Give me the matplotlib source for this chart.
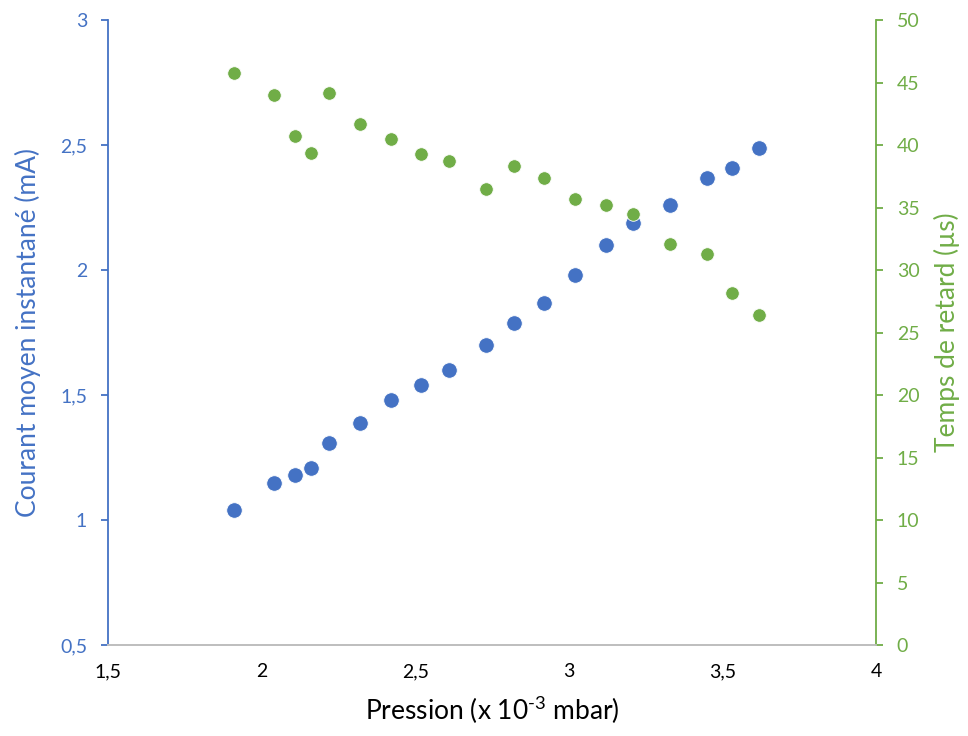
import matplotlib
matplotlib.use("Agg")
import matplotlib.pyplot as plt
from matplotlib.ticker import FuncFormatter, MultipleLocator

# pression (x 10^-3 mbar)
pression = [1.91, 2.04, 2.11, 2.16, 2.22, 2.32, 2.42, 2.52, 2.61, 2.73,
            2.82, 2.92, 3.02, 3.12, 3.21, 3.33, 3.45, 3.53, 3.62]
# courant moyen instantane (mA)
courant = [1.04, 1.15, 1.18, 1.21, 1.31, 1.39, 1.48, 1.54, 1.60, 1.70,
           1.79, 1.87, 1.98, 2.10, 2.19, 2.26, 2.37, 2.41, 2.49]
# temps de retard (us)
retard = [45.8, 44.0, 40.7, 39.4, 44.2, 41.7, 40.5, 39.3, 38.7, 36.5,
          38.3, 37.4, 35.7, 35.2, 34.5, 32.1, 31.3, 28.2, 26.4]

BLUE = "#4472C4"
GREEN = "#70AD47"

plt.rcParams["font.family"] = ["Lato", "DejaVu Sans"]
plt.rcParams["mathtext.fontset"] = "custom"
plt.rcParams["mathtext.rm"] = "Lato"
plt.rcParams["axes.unicode_minus"] = False


def comma(v, pos):
    s = "%g" % v
    return s.replace(".", ",")


fig = plt.figure(figsize=(9.68, 7.36), dpi=100)
ax = fig.add_axes([0.1116, 0.1236, 0.7934, 0.8492])
ax2 = ax.twinx()

ax.scatter(pression, courant, s=125, c=BLUE, edgecolors="white",
           linewidths=0.6, zorder=3)
ax2.scatter(pression, retard, s=95, c=GREEN, edgecolors="white",
            linewidths=0.6, zorder=3)

ax.set_xlim(1.5, 4)
ax.set_ylim(0.5, 3)
ax2.set_ylim(0, 50)
ax.xaxis.set_major_locator(MultipleLocator(0.5))
ax.yaxis.set_major_locator(MultipleLocator(0.5))
ax2.yaxis.set_major_locator(MultipleLocator(5))
for a in (ax, ax2):
    a.xaxis.set_major_formatter(FuncFormatter(comma))
    a.yaxis.set_major_formatter(FuncFormatter(comma))

for a in (ax, ax2):
    a.spines["top"].set_visible(False)
    a.spines["bottom"].set_color("#BFBFBF")
    a.spines["bottom"].set_linewidth(1.3)
ax.spines["right"].set_visible(False)
ax.spines["left"].set_color(BLUE)
ax.spines["left"].set_linewidth(1.3)
ax2.spines["left"].set_visible(False)
ax2.spines["right"].set_color(GREEN)
ax2.spines["right"].set_linewidth(1.3)

ax.tick_params(axis="x", length=0, pad=13, labelsize=14, labelcolor="#000000")
ax.tick_params(axis="y", length=5, width=1.3, color=BLUE, labelcolor=BLUE,
               labelsize=14, pad=10)
ax2.tick_params(axis="y", length=5, width=1.3, color=GREEN, labelcolor=GREEN,
                labelsize=14, pad=10)

# U+2010 hyphen so the exponent shows a short dash, not a math minus
ax.set_xlabel("Pression (x 10$^{\\mathregular{\u2010}3}$ mbar)", fontsize=19,
              color="#000000", labelpad=10)
ax.set_ylabel("Courant moyen instantané (mA)", fontsize=19, color=BLUE,
              labelpad=14)
ax2.set_ylabel("Temps de retard (µs)", fontsize=19, color=GREEN, labelpad=10)

plt.savefig("out.png", dpi=100)
